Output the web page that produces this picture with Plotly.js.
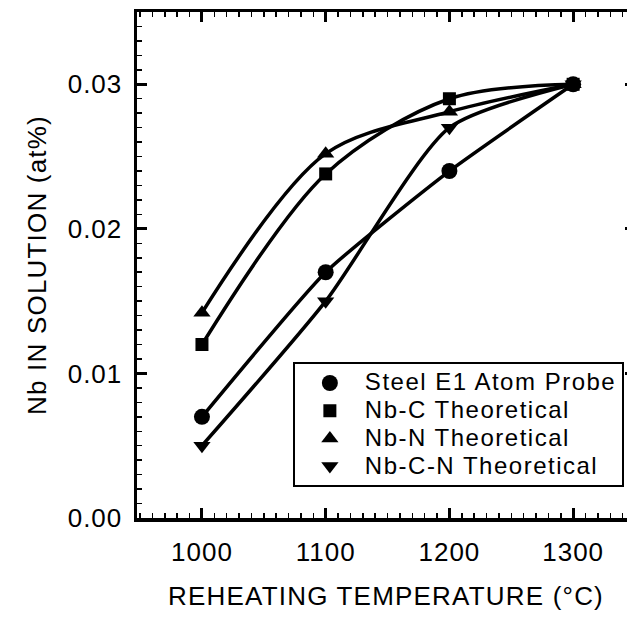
<!DOCTYPE html>
<html>
<head>
<meta charset="utf-8">
<script src="https://cdn.plot.ly/plotly-3.0.1.min.js"></script>
<style>
  html, body { margin: 0; padding: 0; overflow: hidden; background: #fff; }
  #chart { width: 645px; height: 617px; }
  .xtick text, .ytick text { letter-spacing: 1px; }
  .g-xtitle text, .g-ytitle text { letter-spacing: 1.2px; }
  .legendtext { font-size: 24px !important; letter-spacing: 1.5px; }
</style>
</head>
<body>
<div id="chart"></div>
<script>
// Data
const temperatures = [1000, 1100, 1200, 1300];
const steelE1AtomProbe = [0.007, 0.017, 0.024, 0.030];
const nbCTheoretical = [0.012, 0.0238, 0.029, 0.030];
const nbNTheoretical = [0.0142, 0.0252, 0.0281, 0.030];
const nbCNTheoretical = [0.005, 0.015, 0.027, 0.030];
const seriesNames = ['Steel E1 Atom Probe', 'Nb-C Theoretical', 'Nb-N Theoretical', 'Nb-C-N Theoretical'];
const xTickVals = [1000, 1100, 1200, 1300];
const yTickVals = [0.00, 0.01, 0.02, 0.03];
const yTickText = ['0.00', '0.01', '0.02', '0.03'];

const FONT = 'Liberation Sans, Arial, Helvetica, sans-serif';

function lineTrace(y, name, smoothing) {
  return {
    x: temperatures, y: y, name: name, type: 'scatter', mode: 'lines',
    showlegend: false, hoverinfo: 'skip',
    line: { color: '#000', width: 3.5, shape: 'spline', smoothing: smoothing }
  };
}
function markerTrace(y, name, symbol, size) {
  return {
    x: temperatures, y: y, name: name, type: 'scatter', mode: 'markers',
    marker: { symbol: symbol, size: size, color: '#000' }
  };
}

const series = [
  [steelE1AtomProbe, 'circle', 16, 0.5],
  [nbCTheoretical, 'square', 13, 0.9],
  [nbNTheoretical, 'triangle-up', 15, 0.9],
  [nbCNTheoretical, 'triangle-down', 15, 0.65]
];

const data = [];
series.forEach((s, i) => data.push(lineTrace(s[0], seriesNames[i], s[3])));
series.forEach((s, i) => data.push(markerTrace(s[0], seriesNames[i], s[1], s[2])));

const axisCommon = {
  showline: true, linecolor: '#000', linewidth: 3.5, mirror: 'allticks',
  ticks: 'inside', ticklen: 10, tickwidth: 3, tickcolor: '#000',
  showgrid: false, zeroline: false,
  tickfont: { family: FONT, size: 26, color: '#000' }
};

const layout = {
  width: 645, height: 617,
  margin: { l: 137, r: 10, t: 12, b: 99 },
  paper_bgcolor: '#fff', plot_bgcolor: '#fff',
  showlegend: true,
  xaxis: Object.assign({}, axisCommon, {
    range: [947.5, 1350], tickvals: xTickVals, ticklabelstandoff: 8,
    minor: { dtick: 10, tick0: 950, ticks: 'inside', ticklen: 5, tickwidth: 1.5, tickcolor: '#000' },
    title: { text: 'REHEATING TEMPERATURE (°C)', font: { family: FONT, size: 26, color: '#000' }, standoff: 22 }
  }),
  yaxis: Object.assign({}, axisCommon, {
    range: [0, 0.035], tickvals: yTickVals, ticktext: yTickText, ticklabelstandoff: 6,
    minor: { dtick: 0.001, tick0: 0, ticks: 'inside', ticklen: 5, tickwidth: 1.5, tickcolor: '#000' },
    title: { text: 'Nb IN SOLUTION (at%)', font: { family: FONT, size: 26, color: '#000' }, standoff: 14 }
  }),
  legend: {
    x: 0.313, y: 0.308, xanchor: 'left', yanchor: 'top',
    bgcolor: '#fff', bordercolor: '#000', borderwidth: 2,
    font: { family: FONT, size: 19, color: '#000' },
    itemwidth: 60
  }
};

Plotly.newPlot('chart', data, layout, { displayModeBar: false, staticPlot: true });
</script>
</body>
</html>
